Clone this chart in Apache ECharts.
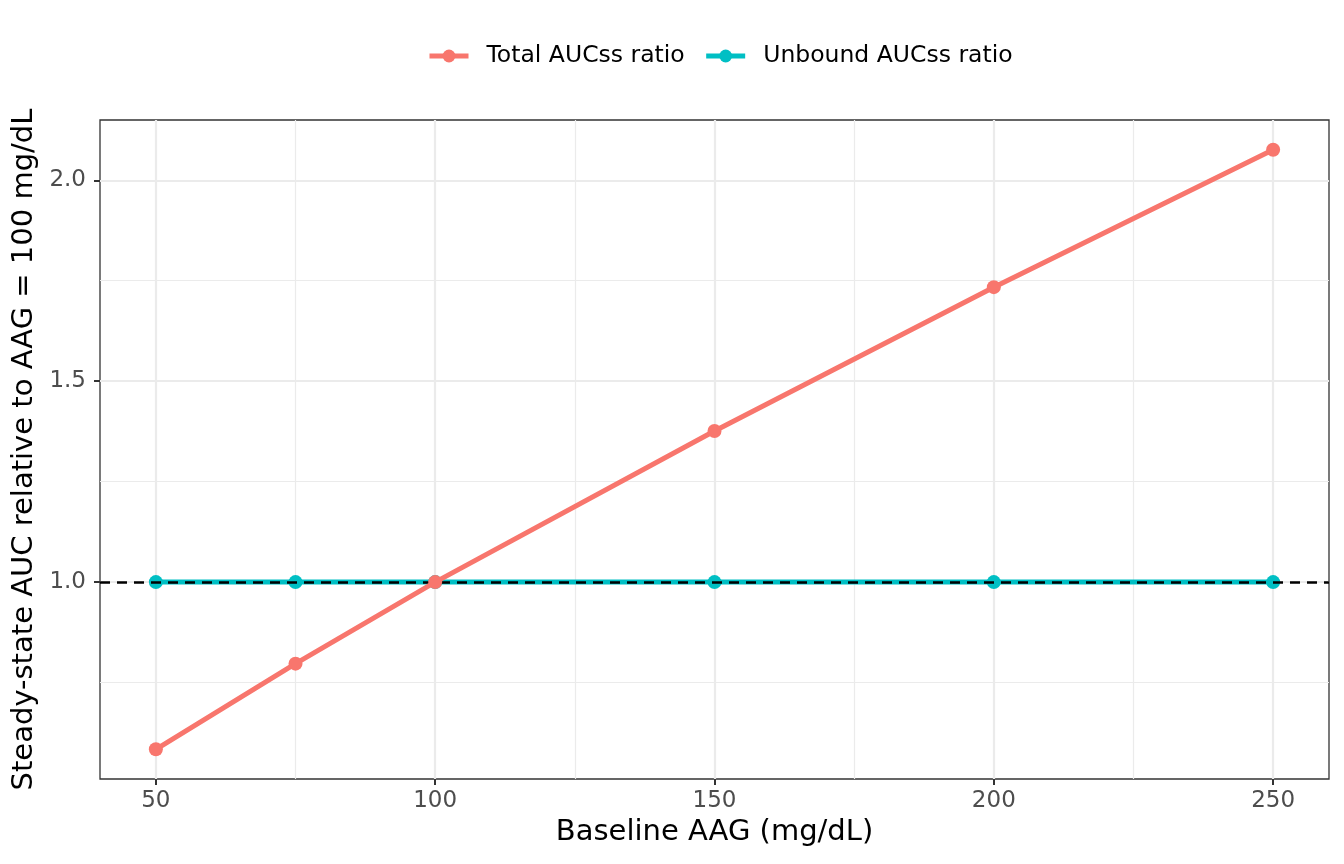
<!DOCTYPE html>
<html lang="en">
<head>
    <meta charset="UTF-8">
    <title>AUC ratio vs baseline AAG</title>
    <script src="https://cdn.jsdelivr.net/npm/echarts@6.0.0/dist/echarts.min.js"></script>
    <style>
        html, body { margin: 0; padding: 0; background: #ffffff; }
        #chart { width: 1344px; height: 864px; }
    </style>
</head>
<body>
    <div id="chart"></div>
    <script type="text/javascript">
    // data
    const aagLevels = [50, 75, 100, 150, 200, 250];
    const totalRatio = [0.584, 0.797, 1.0, 1.376, 1.734, 2.076];
    const unboundRatio = [1.0, 1.0, 1.0, 1.0, 1.0, 1.0];

    // axis ticks (major = labelled, minor = grid only)
    const xTicks = [50, 100, 150, 200, 250];
    const xMinor = [75, 125, 175, 225];
    const yTicks = [1.0, 1.5, 2.0];
    const yMinor = [0.75, 1.25, 1.75];
    const refLevel = 1.0;

    const font = 'DejaVu Sans';

    function pairs(xs, ys) {
        return xs.map((x, i) => [x, ys[i]]);
    }

    function gridLines(values, dim, width) {
        return values.map((v) => ({
            [dim]: v,
            lineStyle: { color: '#EBEBEB', width: width, type: 'solid' }
        }));
    }

    var chart = echarts.init(document.getElementById('chart'));

    var option = {
        animation: false,
        backgroundColor: '#ffffff',
        textStyle: { fontFamily: font },
        legend: {
            data: ['Total AUCss ratio', 'Unbound AUCss ratio'],
            top: 39,
            left: 422,
            padding: 5,
            itemWidth: 39,
            itemHeight: 16,
            itemGap: 19,
            lineStyle: { width: 5 },
            textStyle: { fontFamily: font, fontSize: 23.5, color: '#000000', padding: [0, 0, 0, 13] }
        },
        grid: {
            left: 100, right: 15, top: 120, bottom: 85,
            show: true, borderColor: '#333333', borderWidth: 1.3, backgroundColor: 'transparent'
        },
        xAxis: {
            type: 'value',
            min: 40, max: 260,
            name: 'Baseline AAG (mg/dL)',
            nameLocation: 'middle',
            nameGap: 39,
            nameTextStyle: { fontFamily: font, fontSize: 29, color: '#000000' },
            axisLine: { show: false },
            splitLine: { show: false },
            axisTick: { show: true, length: 6, customValues: xTicks, lineStyle: { color: '#333333', width: 2 } },
            axisLabel: { customValues: xTicks, margin: 11, fontFamily: font, fontSize: 23, color: '#4D4D4D' }
        },
        yAxis: {
            type: 'value',
            min: 0.51, max: 2.15,
            name: 'Steady-state AUC relative to AAG = 100 mg/dL',
            nameLocation: 'middle',
            nameGap: 58,
            nameTextStyle: { fontFamily: font, fontSize: 29, color: '#000000' },
            axisLine: { show: false },
            splitLine: { show: false },
            axisTick: { show: true, length: 6, customValues: yTicks, lineStyle: { color: '#333333', width: 2 } },
            axisLabel: {
                customValues: yTicks, margin: 14, fontFamily: font, fontSize: 23, color: '#4D4D4D',
                formatter: (v) => v.toFixed(1)
            }
        },
        series: [
            {
                // panel grid lines, kept underneath the data
                name: 'grid',
                type: 'line',
                data: [],
                z: 1,
                silent: true,
                markLine: {
                    z: 1,
                    silent: true,
                    symbol: 'none',
                    label: { show: false },
                    data: [
                        ...gridLines(xMinor, 'xAxis', 1.2),
                        ...gridLines(yMinor, 'yAxis', 1.2),
                        ...gridLines(xTicks, 'xAxis', 2.2),
                        ...gridLines(yTicks, 'yAxis', 2.2)
                    ]
                }
            },
            {
                name: 'Unbound AUCss ratio',
                type: 'line',
                data: pairs(aagLevels, unboundRatio),
                z: 3,
                color: '#00BFC4',
                lineStyle: { width: 5 },
                symbol: 'circle',
                symbolSize: 14,
                itemStyle: { color: '#00BFC4' }
            },
            {
                // dashed reference line at ratio 1
                name: 'ref',
                type: 'line',
                data: [],
                z: 4,
                silent: true,
                markLine: {
                    z: 4,
                    silent: true,
                    symbol: 'none',
                    label: { show: false },
                    lineStyle: { color: '#000000', width: 2.5, type: [10, 7] },
                    data: [{ yAxis: refLevel }]
                }
            },
            {
                name: 'Total AUCss ratio',
                type: 'line',
                data: pairs(aagLevels, totalRatio),
                z: 5,
                color: '#F8766D',
                lineStyle: { width: 5 },
                symbol: 'circle',
                symbolSize: 14,
                itemStyle: { color: '#F8766D' }
            }
        ]
    };
    chart.setOption(option);
    </script>
</body>
</html>
